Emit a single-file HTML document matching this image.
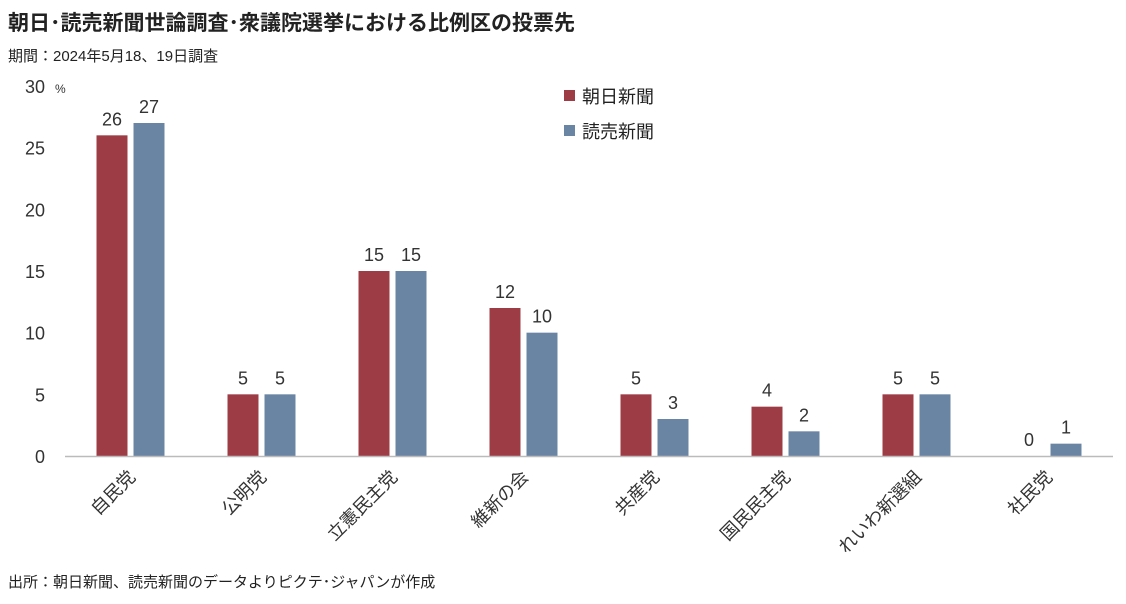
<!DOCTYPE html>
<html><head><meta charset="utf-8"><style>
body{margin:0;background:#fff;width:1126px;height:599px;overflow:hidden;font-family:"Liberation Sans","Noto Sans CJK JP",sans-serif;color:#222}
</style></head><body>
<svg width="1126" height="599" xmlns="http://www.w3.org/2000/svg" font-family="Liberation Sans, Noto Sans CJK JP, sans-serif">
<text x="8" y="30" font-size="21" font-weight="bold" fill="#222">朝日･読売新聞世論調査･衆議院選挙における比例区の投票先</text>
<text x="8" y="61" font-size="15" fill="#222">期間：2024年5月18、19日調査</text>
<text x="8" y="587" font-size="15" fill="#222">出所：朝日新聞、読売新聞のデータよりピクテ･ジャパンが作成</text>
<text x="55" y="93" font-size="12" fill="#333">%</text>
<g id="yaxis"></g><g id="bars"></g><g id="xlabels"></g>
<line x1="65" y1="456.5" x2="1113" y2="456.5" stroke="#bbb" stroke-width="1.5"/>
<rect x="564" y="90" width="11" height="11" fill="#9e3c45"/>
<text x="582" y="103" font-size="18" fill="#222">朝日新聞</text>
<rect x="564" y="125" width="11" height="11" fill="#6a84a4"/>
<text x="582" y="138" font-size="18" fill="#222">読売新聞</text>
</svg>
<script>
const categories=["自民党","公明党","立憲民主党","維新の会","共産党","国民民主党","れいわ新選組","社民党"];
const asahi=[26,5,15,12,5,4,5,0];
const yomiuri=[27,5,15,10,3,2,5,1];
const yTicks=[0,5,10,15,20,25,30];
const NS="http://www.w3.org/2000/svg";
const y0=456,yTop=86,yMax=30,xL=65,xR=1113;
const y=v=>y0-(y0-yTop)*v/yMax;
const band=(xR-xL)/categories.length;
const cx=i=>xL+band*(i+0.5);
function mk(tag,attrs,parent){const e=document.createElementNS(NS,tag);for(const k in attrs)e.setAttribute(k,attrs[k]);parent.appendChild(e);return e;}
const ya=document.getElementById('yaxis'),bg=document.getElementById('bars'),xl=document.getElementById('xlabels');
yTicks.forEach(t=>{const e=mk('text',{x:45,y:y(t)+7,'text-anchor':'end','font-size':18,fill:'#333'},ya);e.textContent=t;

});
const bw=31,gap=6;
categories.forEach((c,i)=>{
 [[asahi,'#9e3c45',-1,'asahi'],[yomiuri,'#6a84a4',1,'yomiuri']].forEach(([arr,col,s,nm])=>{
  const v=arr[i];const x=s<0?cx(i)-gap/2-bw:cx(i)+gap/2;
  const r=mk('rect',{x:x,y:y(v),width:bw,height:y0-y(v),fill:col},bg);
  
  
  const t=mk('text',{x:x+bw/2,y:y(v)-10,'text-anchor':'middle','font-size':18,fill:'#333'},bg);t.textContent=v;
  
  
 });
 const lx=cx(i)+6,ly=478;
 const t=mk('text',{x:lx,y:ly,'text-anchor':'end','font-size':18,fill:'#333',transform:`rotate(-45 ${lx} ${ly})`},xl);t.textContent=c;
 
 
});
</script>
</body></html>
